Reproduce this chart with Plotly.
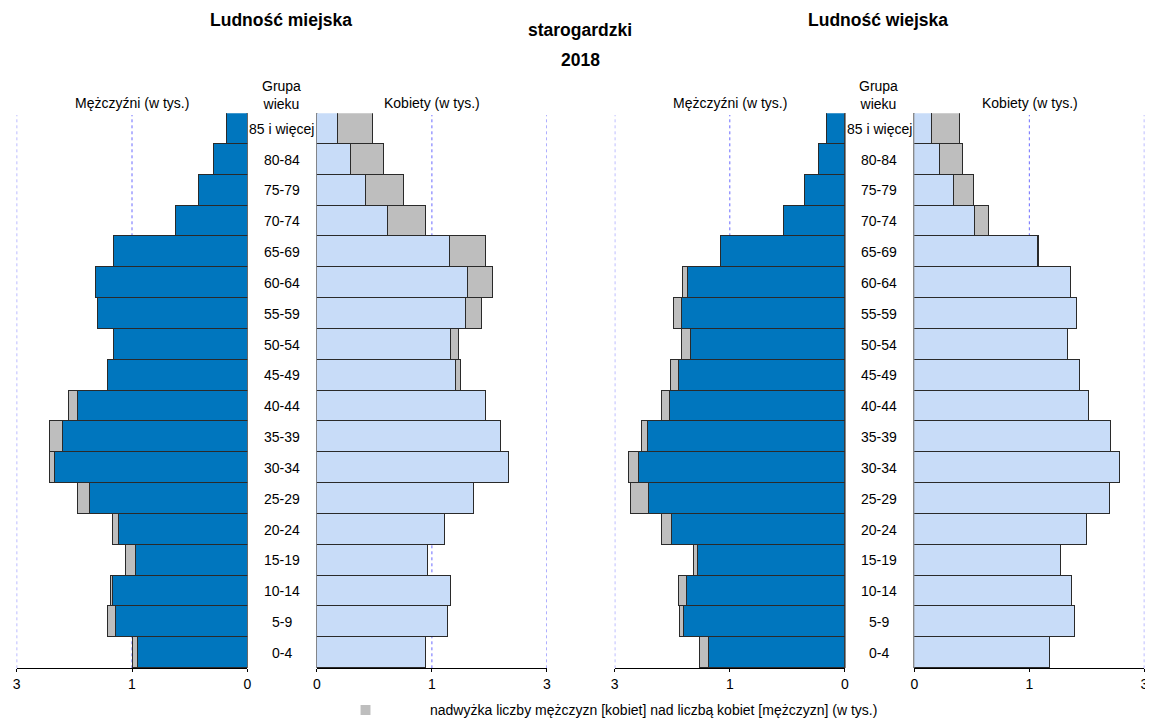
import plotly.graph_objects as go

# browser adds an 8px body margin; figure drawn in a slightly smaller box
OFF = 8
W, H = 1153 - OFF, 719 - OFF

age_groups = ["0-4", "5-9", "10-14", "15-19", "20-24", "25-29", "30-34", "35-39",
              "40-44", "45-49", "50-54", "55-59", "60-64", "65-69", "70-74",
              "75-79", "80-84", "85 i więcej"]

# values in thousands, listed from 0-4 up to 85+
urban_men = [0.994, 1.213, 1.184, 1.052, 1.170, 1.468, 1.713, 1.713, 1.546, 1.207,
             1.161, 1.299, 1.316, 1.155, 0.618, 0.422, 0.296, 0.181]
urban_women = [0.951, 1.141, 1.167, 0.968, 1.115, 1.365, 1.670, 1.601, 1.468, 1.253,
               1.230, 1.434, 1.529, 1.468, 0.951, 0.756, 0.580, 0.491]
rural_men = [1.259, 1.434, 1.440, 1.310, 1.595, 1.859, 1.879, 1.762, 1.595, 1.517,
             1.417, 1.483, 1.411, 1.081, 0.529, 0.345, 0.230, 0.158]
rural_women = [1.181, 1.402, 1.371, 1.281, 1.506, 1.701, 1.790, 1.713, 1.523, 1.442,
               1.342, 1.414, 1.365, 1.083, 0.652, 0.523, 0.428, 0.402]

tick_vals = [0, 1, 2]
tick_text = ["0", "1", "3"]
grid_vals = [1, 2]

title_left = "Ludność miejska"
title_right = "Ludność wiejska"
title_mid = "starogardzki"
year = "2018"
men_label = "Mężczyźni (w tys.)"
women_label = "Kobiety (w tys.)"
group_label = "Grupa<br>wieku"
legend_text = "nadwyżka liczby mężczyzn [kobiet] nad liczbą kobiet [mężczyzn] (w tys.)"

MEN_C = "#0076BE"
WOMEN_C = "#C8DCF8"
SURPLUS_C = "#BEBEBE"
EDGE = "#2a2a2a"
GRID_C = "#6a6aff"
FONT = "Liberation Sans, Arial, sans-serif"


def px(x):
    return (x - OFF) / W


def py(y):
    return 1 - (y - OFF) / H


fig = go.Figure()

panels = [
    ("x", "x2", urban_men, urban_women),
    ("x3", "x4", rural_men, rural_women),
]

for xm, xw, men, women in panels:
    common = [min(m, w) for m, w in zip(men, women)]
    men_sur = [m - w if m > w else None for m, w in zip(men, women)]
    wom_sur = [w - m if w > m else None for m, w in zip(men, women)]
    for xa, base, sur, col in [(xm, common, men_sur, MEN_C), (xw, common, wom_sur, WOMEN_C)]:
        fig.add_trace(go.Bar(y=age_groups, x=base, orientation="h", xaxis=xa, yaxis="y",
                             marker=dict(color=col, line=dict(color=EDGE, width=1)),
                             showlegend=False, hoverinfo="x+y"))
        fig.add_trace(go.Bar(y=age_groups, x=sur, orientation="h", xaxis=xa, yaxis="y",
                             marker=dict(color=SURPLUS_C, line=dict(color=EDGE, width=1)),
                             showlegend=False, hoverinfo="x+y"))

axis_common = dict(
    tickvals=tick_vals, ticktext=tick_text, showgrid=False,
    zeroline=True, zerolinecolor="#8a8a8a", zerolinewidth=2,
    showline=True, linecolor="#000000", linewidth=1, ticks="outside", ticklen=3,
    tickcolor="#000000", tickfont=dict(family=FONT, size=14, color="#000"),
    anchor="y", fixedrange=True,
)

domains = {
    "xaxis": ([px(12.7), px(245)], [2, 0]),
    "xaxis2": ([px(315), px(546.7)], [0, 2]),
    "xaxis3": ([px(615), px(846.7)], [2, 0]),
    "xaxis4": ([px(916.7), px(1148.3)], [0, 2]),
}
layout_axes = {}
for name, (dom, rng) in domains.items():
    d = dict(axis_common)
    d.update(domain=dom, range=rng)
    layout_axes[name] = d

shapes = []
# dotted vertical grid lines at the labelled ticks
for xa in ["x", "x2", "x3", "x4"]:
    for gv in grid_vals:
        shapes.append(dict(type="line", xref=xa, yref="paper", x0=gv, x1=gv,
                           y0=py(668.3), y1=py(115), layer="below",
                           line=dict(color=GRID_C, width=1, dash="dot")))

annotations = []


def txt(x, y, s, size, bold=False, xanchor="center"):
    annotations.append(dict(
        x=px(x), y=py(y), xref="paper", yref="paper", text=f"<b>{s}</b>" if bold else s,
        showarrow=False, xanchor=xanchor, yanchor="middle",
        font=dict(family=FONT, size=size, color="#000")))


txt(279, 20, title_left, 17.5, bold=True)
txt(880, 20, title_right, 17.5, bold=True)
txt(580, 30, title_mid, 17.5, bold=True)
txt(580, 60, year, 17.5, bold=True)
for cm, cg, cw in [(129, 279, 431), (731, 881, 1033)]:
    txt(cm, 103, men_label, 14)
    txt(cg, 95, group_label, 14)
    txt(cw, 103, women_label, 14)

for cx in [279.5, 881.5]:
    for g in age_groups:
        annotations.append(dict(
            x=px(cx), y=g, xref="paper", yref="y", text=g, showarrow=False,
            xanchor="center", yanchor="middle",
            font=dict(family=FONT, size=14, color="#000")))

txt(427, 710, legend_text, 14, xanchor="left")

shapes.append(dict(type="rect", xref="paper", yref="paper", x0=px(359), x1=px(369),
                   y0=py(715), y1=py(705), fillcolor=SURPLUS_C, line=dict(width=0)))

fig.update_layout(
    width=W, height=H, margin=dict(l=0, r=0, t=0, b=0),
    paper_bgcolor="white", plot_bgcolor="white",
    barmode="stack", bargap=0,
    yaxis=dict(domain=[py(668.3), py(113.3)], range=[-0.5, 17.5], visible=False,
               categoryorder="array", categoryarray=age_groups, fixedrange=True),
    annotations=annotations, shapes=shapes, showlegend=False,
    **layout_axes,
)

fig.write_html("out.html")
